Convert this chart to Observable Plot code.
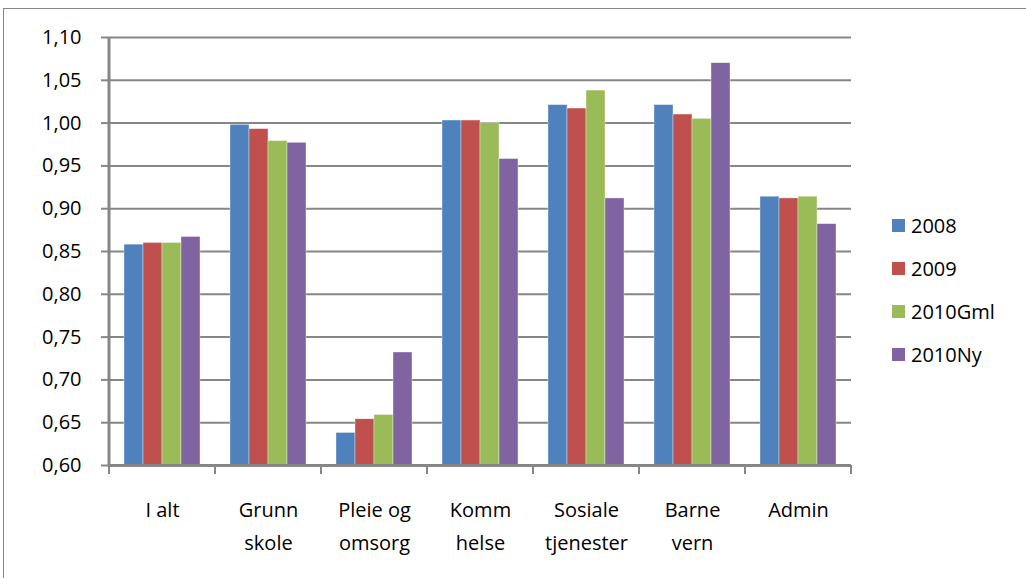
<!DOCTYPE html>
<html>
<head>
<meta charset="utf-8">
<script src="https://cdn.jsdelivr.net/npm/d3@7"></script>
<script src="https://cdn.jsdelivr.net/npm/@observablehq/plot@0.6"></script>
<style>
  html, body { margin: 0; padding: 0; background: #fff; overflow: hidden; }
  #wrap { position: relative; width: 1026px; height: 578px; font-family: "Open Sans", sans-serif; }
  #border { position: absolute; left: 3px; top: 8px; width: 1100px; height: 700px; border: 1.5px solid #868686; box-sizing: border-box; }
  #chart { position: absolute; left: 0; top: 0; }
  #legend { position: absolute; left: 892px; top: 204px; }
  .item { display: flex; align-items: center; height: 43px; font-size: 20px; color: #000; }
  .sw { width: 13px; height: 13px; margin-right: 6px; }
</style>
</head>
<body>
<div id="wrap">
  <div id="border"></div>
  <div id="chart"></div>
  <div id="legend"></div>
</div>
<script>
const categories = ["I alt", "Grunn\nskole", "Pleie og\nomsorg", "Komm\nhelse", "Sosiale\ntjenester", "Barne\nvern", "Admin"];
const series = ["2008", "2009", "2010Gml", "2010Ny"];
const v2008    = [0.858, 0.998, 0.638, 1.003, 1.021, 1.021, 0.914];
const v2009    = [0.860, 0.993, 0.654, 1.003, 1.017, 1.010, 0.912];
const v2010Gml = [0.860, 0.979, 0.659, 1.000, 1.038, 1.005, 0.914];
const v2010Ny  = [0.867, 0.977, 0.732, 0.958, 0.912, 1.070, 0.882];
const yTicks = [0.60, 0.65, 0.70, 0.75, 0.80, 0.85, 0.90, 0.95, 1.00, 1.05, 1.10];
const colors = ["#4F81BD", "#C0504D", "#9BBB59", "#8064A2"];
const yMin = 0.60, yMax = 1.10;

const seriesValues = [v2008, v2009, v2010Gml, v2010Ny];
const data = [];
categories.forEach((c, i) => series.forEach((s, j) => data.push({cat: c, series: s, value: seriesValues[j][i]})));

const grey = "#868686";
const fmt = d => d.toFixed(2).replace(".", ",");

const chart = Plot.plot({
  width: 1026,
  height: 578,
  marginLeft: 108,
  marginRight: 174,
  marginTop: 37,
  marginBottom: 113,
  style: {fontFamily: "Open Sans, sans-serif", fontSize: "20px", color: "#000", background: "transparent"},
  fx: {domain: categories, padding: 0, label: null},
  x: {domain: series, paddingInner: 0, paddingOuter: 0.77, axis: null},
  y: {domain: [yMin, yMax], label: null},
  color: {domain: series, range: colors},
  marks: [
    Plot.gridY(yTicks, {stroke: grey, strokeOpacity: 1, strokeWidth: 2}),
    Plot.barY(data, {fx: "cat", x: "series", y1: yMin, y2: "value", fill: "series", stroke: "#fff", strokeWidth: 0.6, strokeOpacity: 0.6}),
    Plot.ruleY([yMin], {stroke: grey, strokeWidth: 3}),
    Plot.axisY(yTicks, {tickFormat: fmt, tickSize: 8, tickPadding: 20, stroke: grey, strokeWidth: 2, fontSize: 20, fill: "#000", label: null}),
    Plot.axisFx({anchor: "bottom", tickSize: 0, tickPadding: 28, lineHeight: 1.65, fontSize: 20, fill: "#000", label: null})
  ]
});
document.getElementById("chart").appendChild(chart);

// y-axis line and category boundary ticks, placed with the plot's own scales
const fxS = chart.scale("fx"), yS = chart.scale("y");
const svg = d3.select(chart);
const y0 = yS.apply(yMin), y1 = yS.apply(yMax);
const left = fxS.apply(categories[0]);
svg.append("line").attr("x1", left).attr("x2", left).attr("y1", y1).attr("y2", y0 + 1.5)
  .attr("stroke", grey).attr("stroke-width", 3);
const bounds = categories.map(c => fxS.apply(c)).concat([fxS.apply(categories[categories.length - 1]) + fxS.bandwidth]);
bounds.forEach(b => {
  svg.append("line").attr("x1", b).attr("x2", b).attr("y1", y0).attr("y2", y0 + 9)
    .attr("stroke", grey).attr("stroke-width", 2);
});

const legend = document.getElementById("legend");
series.forEach((s, i) => {
  const it = document.createElement("div");
  it.className = "item";
  it.innerHTML = `<span class="sw" style="background:${colors[i]}"></span><span>${s}</span>`;
  legend.appendChild(it);
});
</script>
</body>
</html>
